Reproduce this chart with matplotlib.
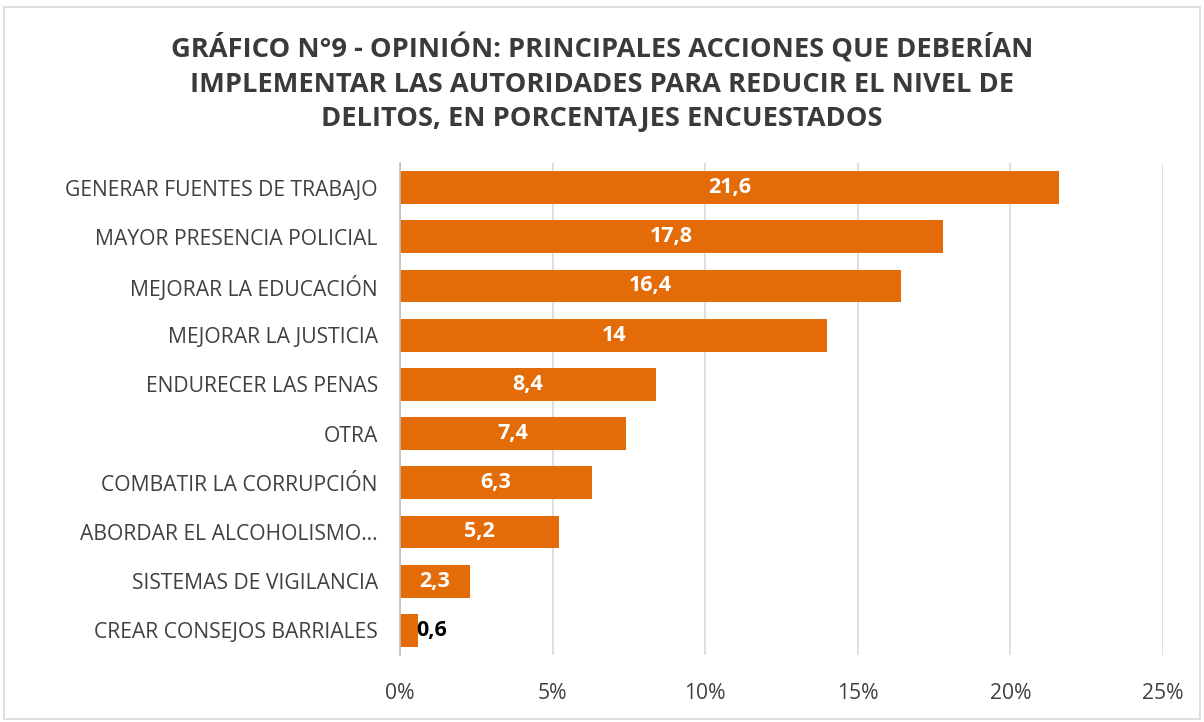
import matplotlib
matplotlib.use("Agg")
import matplotlib.pyplot as plt
from matplotlib.patches import Rectangle
from matplotlib.ticker import FuncFormatter, MultipleLocator

categories = [
    "GENERAR FUENTES DE TRABAJO",
    "MAYOR PRESENCIA POLICIAL",
    "MEJORAR LA EDUCACIÓN",
    "MEJORAR LA JUSTICIA",
    "ENDURECER LAS PENAS",
    "OTRA",
    "COMBATIR LA CORRUPCIÓN",
    "ABORDAR EL ALCOHOLISMO…",
    "SISTEMAS DE VIGILANCIA",
    "CREAR CONSEJOS BARRIALES",
]
values = [21.6, 17.8, 16.4, 14, 8.4, 7.4, 6.3, 5.2, 2.3, 0.6]
value_labels = ["21,6", "17,8", "16,4", "14", "8,4", "7,4", "6,3", "5,2", "2,3", "0,6"]
title = ("GRÁFICO N°9 - OPINIÓN: PRINCIPALES ACCIONES QUE DEBERÍAN\n"
         "IMPLEMENTAR LAS AUTORIDADES PARA REDUCIR EL NIVEL DE\n"
         "DELITOS, EN PORCENTAJES ENCUESTADOS")

plt.rcParams['font.family'] = ['Open Sans', 'DejaVu Sans']

fig = plt.figure(figsize=(12.04, 7.22), dpi=100)
ax = fig.add_axes([400/1204, 1-655/722, 763/1204, 492/722])

bar_color = "#E36C09"
y = list(range(len(categories)))
ax.barh(y, values, height=0.67, color=bar_color, zorder=3)
ax.set_ylim(len(categories)-0.5, -0.5)
ax.set_xlim(0, 25)
ax.xaxis.set_major_locator(MultipleLocator(5))
ax.xaxis.set_major_formatter(FuncFormatter(lambda v, p: f"{int(v)}%"))
ax.set_yticks(y)
ax.set_yticklabels(categories, fontsize=15.2, color="#404040")
ax.tick_params(axis='y', length=0, pad=16)
ax.tick_params(axis='x', length=0, pad=20, labelsize=15.2, labelcolor="#404040")
ax.grid(axis='x', color="#D9D9D9", linewidth=1.2, zorder=0)
for s in ['top', 'right', 'bottom']:
    ax.spines[s].set_visible(False)
ax.spines['left'].set_color("#BFBFBF")
ax.spines['left'].set_linewidth(1.2)
ax.spines['left'].set_zorder(4)

for i, (v, lab) in enumerate(zip(values, value_labels)):
    if v < 1:
        ax.text(v - 0.07, i, lab, ha='left', va='center', fontsize=15.5,
                fontweight='bold', color='black', zorder=5)
    else:
        ax.text(v / 2, i, lab, ha='center', va='center', fontsize=15.5,
                fontweight='bold', color='white', zorder=5)

fig.text(0.5, 1-83/722, title, ha='center', va='center', fontsize=19.6,
         fontweight='bold', color="#3A3A3A", linespacing=1.42)

fig.patches.append(Rectangle((4/1204, 3/722), 1196/1204, 712/722,
                             transform=fig.transFigure, fill=False,
                             edgecolor="#D9D9D9", linewidth=1.2))

fig.savefig("out.png", dpi=100)
